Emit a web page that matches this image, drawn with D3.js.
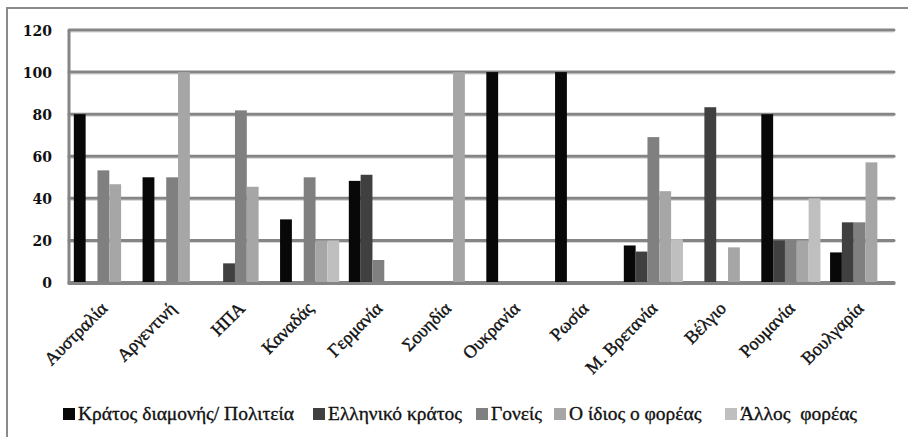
<!DOCTYPE html>
<html>
<head>
<meta charset="utf-8">
<script src="https://cdn.jsdelivr.net/npm/d3@7"></script>
<style>
  body { margin: 0; background: #fff; }
  svg { display: block; }
</style>
</head>
<body>
<svg id="chart" width="908" height="437"></svg>
<script>
// Countries along the x axis
const categories = ["Αυστραλία", "Αργεντινή", "ΗΠΑ", "Καναδάς", "Γερμανία", "Σουηδία",
  "Ουκρανία", "Ρωσία", "Μ. Βρετανία", "Βέλγιο", "Ρουμανία", "Βουλγαρία"];

// Series names (legend order)
const seriesNames = ["Κράτος διαμονής/ Πολιτεία", "Ελληνικό κράτος", "Γονείς",
  "Ο ίδιος ο φορέας", "Άλλος  φορέας"];

// Percentages per country, one array per series
const kratosDiamonis = [80, 50, 0, 30, 48.3, 0, 100, 100, 17.6, 0, 80, 14.3];
const ellinikoKratos = [0, 0, 9.1, 0, 51.2, 0, 0, 0, 14.7, 83.3, 20, 28.6];
const goneis         = [53.3, 50, 81.8, 50, 10.7, 0, 0, 0, 69.1, 0, 20, 28.6];
const idiosForeas    = [46.7, 100, 45.5, 20, 0, 100, 0, 0, 43.4, 16.7, 20, 57.1];
const allosForeas    = [0, 0, 0, 20, 0, 0, 0, 0, 20.6, 0, 40, 0];

const yTicks = [0, 20, 40, 60, 80, 100, 120];

const seriesValues = [kratosDiamonis, ellinikoKratos, goneis, idiosForeas, allosForeas];
const colors = ["#080808", "#404040", "#808080", "#a6a6a6", "#bfbfbf"];

const serif = "'Liberation Serif', 'Times New Roman', serif";

const svg = d3.select("#chart");

// Outer chart frame (open on the right and bottom)
svg.append("path")
  .attr("d", "M7,437 L7,8 L908,8")
  .attr("fill", "none")
  .attr("stroke", "#8a8a8a")
  .attr("stroke-width", 2);

const plot = { left: 69, right: 894, top: 30, bottom: 282.5 };

const x = d3.scaleBand()
  .domain(categories)
  .range([plot.left, plot.right])
  .paddingInner(0.14)
  .paddingOuter(0.07);

const xs = d3.scaleBand()
  .domain(d3.range(seriesNames.length))
  .range([0, x.bandwidth()]);

const y = d3.scaleLinear()
  .domain([0, 120])
  .range([plot.bottom, plot.top]);

// Horizontal gridlines with a light shadow beneath
const grid = svg.append("g");
grid.selectAll("line.shadow")
  .data(yTicks)
  .join("line")
  .attr("class", "shadow")
  .attr("x1", plot.left).attr("x2", plot.right)
  .attr("y1", d => y(d) + 2).attr("y2", d => y(d) + 2)
  .attr("stroke", "#d4d4d4")
  .attr("stroke-width", 1);
grid.selectAll("line.major")
  .data(yTicks)
  .join("line")
  .attr("class", "major")
  .attr("x1", plot.left).attr("x2", plot.right)
  .attr("y1", d => y(d)).attr("y2", d => y(d))
  .attr("stroke", "#858585")
  .attr("stroke-width", 3)
  .attr("stroke-linecap", "round");

// Vertical axis line
svg.append("line")
  .attr("x1", plot.left).attr("x2", plot.left)
  .attr("y1", plot.top).attr("y2", plot.bottom + 1)
  .attr("stroke", "#858585")
  .attr("stroke-width", 3);

// Bars
const groups = svg.append("g").selectAll("g")
  .data(categories)
  .join("g")
  .attr("transform", d => `translate(${x(d)},0)`);

groups.selectAll("rect")
  .data((c, i) => seriesValues.map((vals, s) => ({ s, v: vals[i] })).filter(d => d.v > 0))
  .join("rect")
  .attr("x", d => xs(d.s))
  .attr("width", xs.bandwidth())
  .attr("y", d => y(d.v))
  .attr("height", d => y(0) - y(d.v))
  .attr("fill", d => colors[d.s]);

// Baseline drawn over the bar feet
svg.append("line")
  .attr("x1", plot.left).attr("x2", plot.right)
  .attr("y1", y(0) + 1).attr("y2", y(0) + 1)
  .attr("stroke", "#858585")
  .attr("stroke-width", 3)
  .attr("stroke-linecap", "round");

// Y axis labels
const yAxis = d3.axisLeft(y).tickValues(yTicks).tickSize(0).tickPadding(17);
svg.append("g")
  .attr("transform", `translate(${plot.left},0)`)
  .call(yAxis)
  .call(g => g.select(".domain").remove())
  .selectAll("text")
  .attr("font-family", "DejaVu Serif")
  .attr("font-weight", "bold")
  .attr("font-size", 14)
  .attr("fill", "#111")
  .attr("dy", "0.36em");

// X axis labels, rotated
const xAxis = d3.axisBottom(x).tickSize(0).tickPadding(0);
svg.append("g")
  .attr("transform", `translate(0,${plot.bottom})`)
  .call(xAxis)
  .call(g => g.select(".domain").remove())
  .selectAll("text")
  .attr("font-family", serif)
  .attr("font-size", 18)
  .attr("fill", "#111")
  .attr("stroke", "#111")
  .attr("stroke-width", 0.4)
  .attr("text-anchor", "end")
  .attr("dy", null)
  .attr("y", 0)
  .attr("transform", "translate(5,27) rotate(-45)");

// Legend
const legendX = [63, 313, 476, 554, 725];
const legend = svg.append("g").selectAll("g")
  .data(seriesNames)
  .join("g")
  .attr("transform", (d, i) => `translate(${legendX[i]},408)`);
legend.append("rect")
  .attr("width", 12).attr("height", 12)
  .attr("fill", (d, i) => colors[i]);
legend.append("text")
  .attr("x", 15)
  .attr("y", 12.3)
  .attr("font-family", serif)
  .attr("font-size", 19.5)
  .attr("fill", "#111")
  .attr("stroke", "#111")
  .attr("stroke-width", 0.35)
  .attr("xml:space", "preserve")
  .style("white-space", "pre")
  .text(d => d);
</script>
</body>
</html>
